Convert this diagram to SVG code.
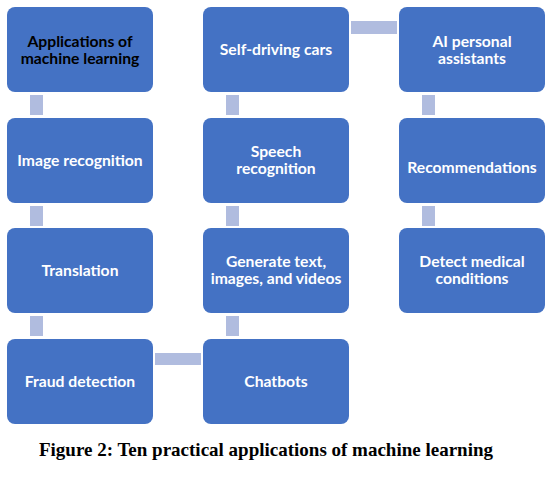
<svg xmlns="http://www.w3.org/2000/svg" width="552" height="478" viewBox="0 0 552 478">
<style>
.box{fill:#4472C4}
.conn{fill:#B0BCDF}
.t{font-family:Lato,"Liberation Sans",sans-serif;font-weight:bold;font-size:15.7px;fill:#FFFFFF;text-anchor:middle}
.dark{fill:#000000}
.cap{font-family:"Liberation Serif",serif;font-weight:bold;font-size:19px;fill:#000;text-anchor:middle}
</style>
<rect width="552" height="478" fill="#FFFFFF"/>
<g id="connectors">
<rect class="conn" x="30" y="95" width="13" height="20"/>
<rect class="conn" x="30" y="206" width="13" height="20"/>
<rect class="conn" x="30" y="316" width="13" height="20"/>
<rect class="conn" x="155" y="353" width="46" height="12"/>
<rect class="conn" x="226" y="316" width="13" height="20"/>
<rect class="conn" x="226" y="206" width="13" height="20"/>
<rect class="conn" x="226" y="95" width="13" height="20"/>
<rect class="conn" x="351" y="21" width="46" height="13"/>
<rect class="conn" x="422" y="95" width="13" height="20"/>
<rect class="conn" x="422" y="206" width="13" height="20"/>
</g>
<g id="n1"><rect class="box" x="7" y="7" width="146" height="85" rx="8"/><text class="t dark" x="80" y="47">Applications of</text><text class="t dark" x="80" y="64">machine learning</text></g>
<g id="n2"><rect class="box" x="7" y="118" width="146" height="85" rx="8"/><text class="t" x="80" y="165.5">Image recognition</text></g>
<g id="n3"><rect class="box" x="7" y="228" width="146" height="85" rx="8"/><text class="t" x="80" y="276">Translation</text></g>
<g id="n4"><rect class="box" x="7" y="339" width="146" height="85" rx="8"/><text class="t" x="80" y="387">Fraud detection</text></g>
<g id="n5"><rect class="box" x="203" y="339" width="146" height="85" rx="8"/><text class="t" x="276" y="387">Chatbots</text></g>
<g id="n6"><rect class="box" x="203" y="228" width="146" height="85" rx="8"/><text class="t" x="276" y="267">Generate text,</text><text class="t" x="276" y="284">images, and videos</text></g>
<g id="n7"><rect class="box" x="203" y="118" width="146" height="85" rx="8"/><text class="t" x="276" y="157">Speech</text><text class="t" x="276" y="174">recognition</text></g>
<g id="n8"><rect class="box" x="203" y="7" width="146" height="85" rx="8"/><text class="t" x="276" y="55">Self-driving cars</text></g>
<g id="n9"><rect class="box" x="399" y="7" width="146" height="85" rx="8"/><text class="t" x="472" y="47">AI personal</text><text class="t" x="472" y="64">assistants</text></g>
<g id="n10"><rect class="box" x="399" y="118" width="146" height="85" rx="8"/><text class="t" x="472" y="173">Recommendations</text></g>
<g id="n11"><rect class="box" x="399" y="228" width="146" height="85" rx="8"/><text class="t" x="472" y="267">Detect medical</text><text class="t" x="472" y="284">conditions</text></g>
<text class="cap" x="266" y="456">Figure 2: Ten practical applications of machine learning</text>
</svg>
